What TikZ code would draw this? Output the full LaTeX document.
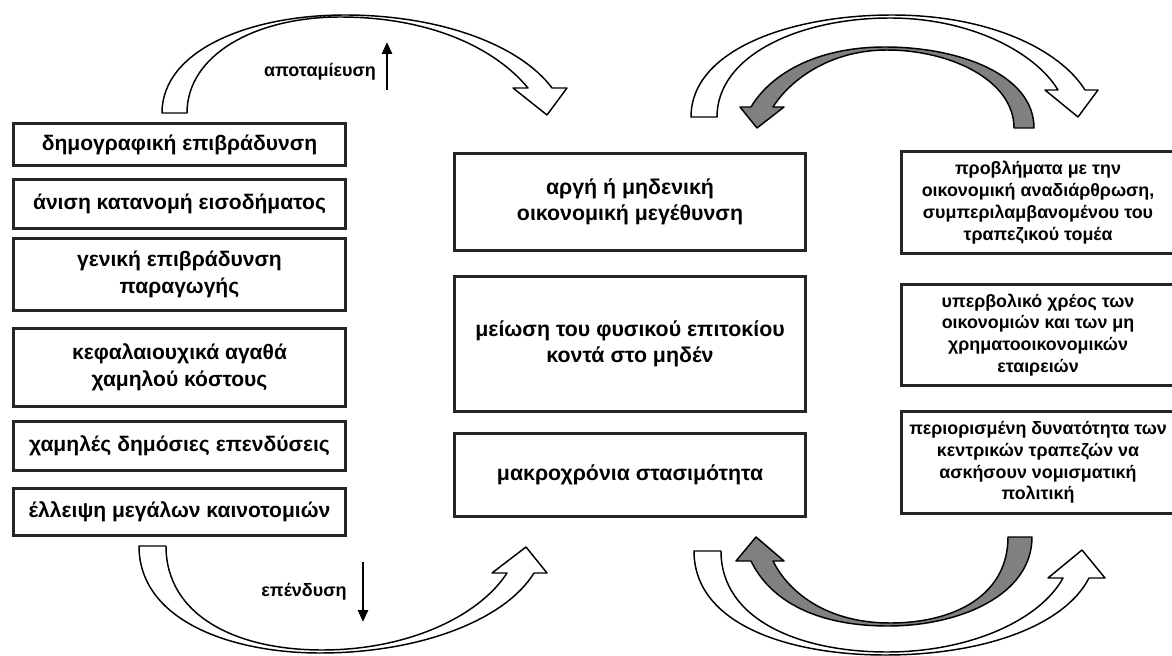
\documentclass[tikz,border=0pt]{standalone}
\usepackage{fontspec}
\setmainfont{Liberation Sans}
\usepackage{tikz}
\usetikzlibrary{arrows.meta,positioning}

\begin{document}
\begin{tikzpicture}[x=0.75pt,y=-0.75pt,every node/.style={font=\bfseries,align=center},box/.style={draw=black!85,line width=2.2pt,inner sep=2pt},lbox/.style={box,minimum width=249pt,font=\bfseries\fontsize{15.8}{20}\selectfont},cbox/.style={box,minimum width=263pt,font=\bfseries\fontsize{16}{19.5}\selectfont},rbox/.style={box,minimum width=205pt,font=\bfseries\fontsize{13.4}{16.4}\selectfont},bendarrow/.style={draw=black,line width=1.1pt,line join=round,fill=white},darkarrow/.style={bendarrow,fill=black!50},updown/.style={line width=2pt,-{Triangle[length=9pt,width=7.5pt]}}]
\useasboundingbox (0,0) rectangle (1172,656);
% left column
\node[lbox,minimum height=31.5pt] (demo) at (179.5,144.5) {δημογραφική επιβράδυνση};
\node[lbox,minimum height=36.8pt,below=8.25pt of demo] (ineq) {άνιση κατανομή εισοδήματος};
\node[lbox,minimum height=54pt,below=5.25pt of ineq] (slow) {γενική επιβράδυνση\\ παραγωγής};
\node[lbox,minimum height=58.5pt,below=11.25pt of slow] (capgoods) {κεφαλαιουχικά αγαθά\\ χαμηλού κόστους};
\node[lbox,minimum height=36.8pt,below=9pt of capgoods] (pubinv) {χαμηλές δημόσιες επενδύσεις};
\node[lbox,minimum height=35.3pt,below=11.25pt of pubinv] (innov) {έλλειψη μεγάλων καινοτομιών};
% middle column
\node[cbox,minimum height=72.8pt] (growth) at (630,202) {αργή ή μηδενική\\ οικονομική μεγέθυνση};
\node[cbox,minimum height=101.3pt,below=17.25pt of growth] (rate) {μείωση του φυσικού επιτοκίου\\ κοντά στο μηδέν};
\node[cbox,minimum height=62.3pt,below=14.25pt of rate] (stag) {μακροχρόνια στασιμότητα};
% right column
\node[rbox,minimum height=76.5pt] (restr) at (1038,202.5) {προβλήματα με την\\ οικονομική αναδιάρθρωση,\\ συμπεριλαμβανομένου του\\ τραπεζικού τομέα};
\node[rbox,minimum height=75.8pt,below=21pt of restr] (debt) {υπερβολικό χρέος των\\ οικονομιών και των μη\\ χρηματοοικονομικών\\ εταιρειών};
\node[rbox,minimum height=76.5pt,below=17.25pt of debt] (policy) {περιορισμένη δυνατότητα των\\ κεντρικών τραπεζών να\\ ασκήσουν νομισματική\\ πολιτική};
% curved arrows
\draw[bendarrow] (162,113) .. controls (162,50) and (250,15) .. (345,15) .. controls (440,15) and (520,45) .. (552,88) -- (567,88) -- (547,115) -- (513,88) -- (528,88) .. controls (495,48) and (430,17) .. (340,17) .. controls (255,17) and (187,55) .. (187,113) -- cycle;
\draw[bendarrow] (691,117) .. controls (691,50) and (790,15) .. (892,15) .. controls (990,15) and (1060,50) .. (1085,90) -- (1098,90) -- (1078,117) -- (1045,90) -- (1058,90) .. controls (1035,52) and (970,18) .. (890,18) .. controls (800,18) and (717,55) .. (717,117) -- cycle;
\draw[darkarrow] (1034,128) .. controls (1034,75) and (960,47) .. (885,47) .. controls (815,47) and (770,75) .. (751,107) -- (740,107) -- (757,128) -- (784,107) -- (773,107) .. controls (790,80) and (830,50) .. (887,50) .. controls (950,50) and (1014,80) .. (1014,128) -- cycle;
\draw[bendarrow] (139,546) .. controls (139,620) and (230,653) .. (320,653) .. controls (420,653) and (505,620) .. (534,573) -- (547,573) -- (526,547) -- (492,573) -- (507,573) .. controls (480,615) and (410,650) .. (322,650) .. controls (235,650) and (166,615) .. (166,546) -- cycle;
\draw[bendarrow] (694,551) .. controls (694,625) and (790,655) .. (885,655) .. controls (985,655) and (1065,625) .. (1089,578) -- (1105,578) -- (1082,550) -- (1048,578) -- (1063,578) .. controls (1040,620) and (970,652) .. (887,652) .. controls (800,652) and (721,620) .. (721,551) -- cycle;
\draw[darkarrow] (1032,537) .. controls (1032,595) and (960,626) .. (888,626) .. controls (815,626) and (770,600) .. (751,561) -- (736,561) -- (756,537) -- (784,561) -- (773,561) .. controls (790,595) and (830,623) .. (890,623) .. controls (955,623) and (1008,595) .. (1008,537) -- cycle;
% saving and investment
\node[font=\bfseries\fontsize{13.5}{16}\selectfont] (save) at (320,72) {αποταμίευση};
\coordinate (savefoot) at (387,90);
\coordinate (savetip) at (387,42);
\draw[updown] (savefoot) -- (savetip);
\node[font=\bfseries\fontsize{13.5}{16}\selectfont] (invest) at (304,592) {επένδυση};
\coordinate (investfoot) at (363,562);
\coordinate (investtip) at (363,622);
\draw[updown] (investfoot) -- (investtip);
\end{tikzpicture}
\end{document}
